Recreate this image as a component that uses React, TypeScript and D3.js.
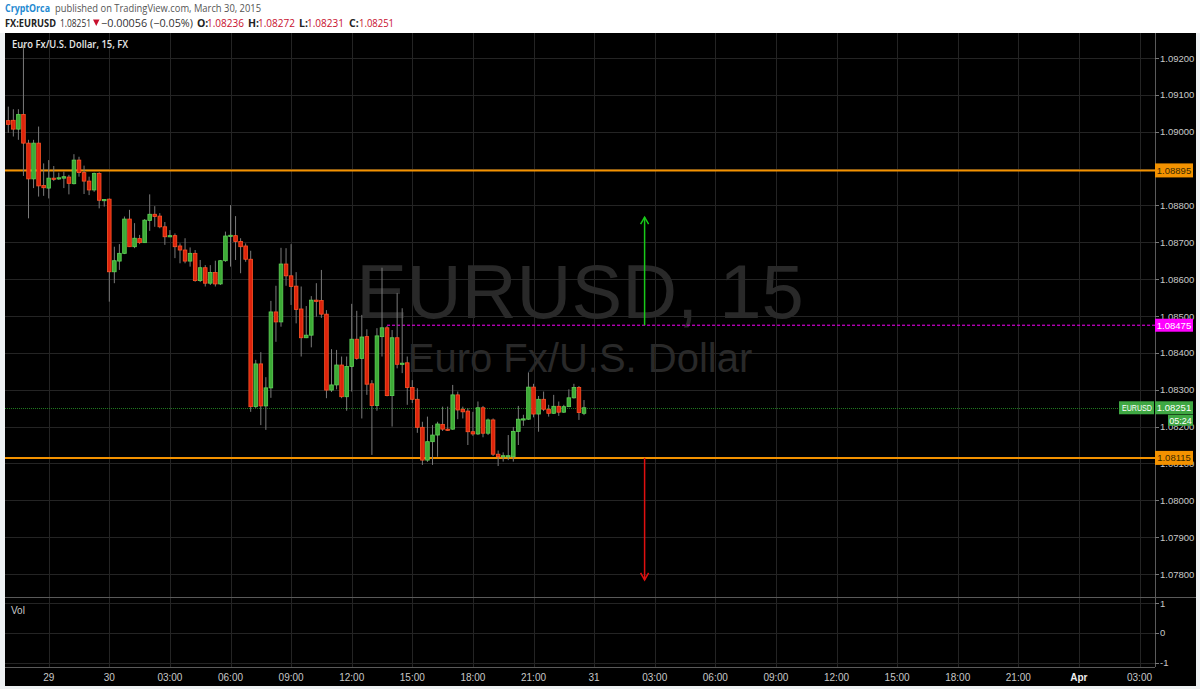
import React from "react";
import * as d3 from "d3";

// ---- data (15-min EURUSD candles) ----
const opens = [
  1.0903, 1.09031, 1.09007, 1.09047, 1.08969, 1.08872, 1.08969, 1.08854, 1.08847, 1.08874,
  1.08874, 1.08874, 1.08877, 1.08859, 1.08923, 1.08889, 1.08866, 1.08842, 1.08887, 1.08814,
  1.08817, 1.0862, 1.08649, 1.0867, 1.08763, 1.08688, 1.0871, 1.08699, 1.08759, 1.08776,
  1.08771, 1.08742, 1.08716, 1.08718, 1.0869, 1.08679, 1.08649, 1.0867, 1.08596, 1.08631,
  1.08589, 1.08618, 1.08587, 1.0865, 1.08717, 1.08718, 1.08702, 1.0869, 1.08654, 1.08254,
  1.0837, 1.08256, 1.08305, 1.08511, 1.08484, 1.08641, 1.08609, 1.08581, 1.08519, 1.08441,
  1.08448, 1.08543, 1.08542, 1.08505, 1.08299, 1.08313, 1.08367, 1.08281, 1.08363, 1.08437,
  1.08385, 1.08444, 1.08316, 1.08257, 1.08444, 1.08468, 1.08284, 1.08441, 1.0837, 1.08373,
  1.08306, 1.08274, 1.08198, 1.08109, 1.08159, 1.08177, 1.08206, 1.08193, 1.08193, 1.08286,
  1.08247, 1.08242, 1.08186, 1.0818, 1.08251, 1.08182, 1.08218, 1.08125, 1.08119, 1.08119,
  1.08118, 1.08187, 1.08219, 1.0822, 1.08307, 1.08234, 1.08274, 1.08247, 1.08236, 1.08255,
  1.08239, 1.08254, 1.08278, 1.08306, 1.08236,
];
const highs = [
  1.09068, 1.09061, 1.09061, 1.09235, 1.08978, 1.08978, 1.09014, 1.08914, 1.08923, 1.08907,
  1.08889, 1.08892, 1.08883, 1.08939, 1.08932, 1.08908, 1.08878, 1.08889, 1.0889, 1.08817,
  1.08819, 1.08688, 1.08695, 1.0877, 1.08788, 1.08752, 1.0872, 1.08763, 1.0883, 1.08798,
  1.08779, 1.08755, 1.08733, 1.08724, 1.08697, 1.08711, 1.08686, 1.08679, 1.08652, 1.08638,
  1.08638, 1.0865, 1.08652, 1.08729, 1.08801, 1.08771, 1.08711, 1.08697, 1.08677, 1.08381,
  1.08402, 1.08334, 1.08541, 1.08582, 1.08685, 1.08684, 1.08695, 1.08619, 1.0858, 1.08527,
  1.08554, 1.08589, 1.08625, 1.08516, 1.0841, 1.08408, 1.0839, 1.0839, 1.08533, 1.08514,
  1.08503, 1.08464, 1.08326, 1.08467, 1.08631, 1.08473, 1.08462, 1.08562, 1.08521, 1.0839,
  1.08326, 1.08304, 1.08213, 1.08227, 1.08204, 1.08213, 1.08254, 1.08254, 1.08313, 1.08295,
  1.08254, 1.0825, 1.0824, 1.08268, 1.08256, 1.08222, 1.08222, 1.08135, 1.0813, 1.08177,
  1.08199, 1.08256, 1.08232, 1.08347, 1.08316, 1.08283, 1.08295, 1.08259, 1.08286, 1.08268,
  1.08259, 1.08301, 1.08316, 1.0831, 1.08272,
];
const lows = [
  1.08997, 1.08987, 1.08978, 1.0888, 1.08765, 1.08847, 1.08824, 1.08826, 1.08819, 1.08866,
  1.08869, 1.08847, 1.0883, 1.08857, 1.08878, 1.08831, 1.08828, 1.08837, 1.08792, 1.08797,
  1.08539, 1.08589, 1.08625, 1.08668, 1.08687, 1.08684, 1.08695, 1.08698, 1.08731, 1.08742,
  1.08738, 1.08693, 1.08714, 1.08657, 1.08643, 1.08643, 1.08634, 1.08593, 1.08592, 1.0858,
  1.08584, 1.0858, 1.08584, 1.08647, 1.08634, 1.08652, 1.08616, 1.08647, 1.0824, 1.0825,
  1.08204, 1.08191, 1.08278, 1.0843, 1.08471, 1.08582, 1.0853, 1.0848, 1.0839, 1.0844,
  1.08415, 1.08498, 1.08495, 1.08277, 1.08294, 1.08301, 1.08277, 1.08243, 1.08295, 1.08381,
  1.08222, 1.08286, 1.08123, 1.08243, 1.0839, 1.08282, 1.082, 1.08358, 1.08345, 1.08259,
  1.08264, 1.08183, 1.08096, 1.08104, 1.08096, 1.08118, 1.08188, 1.08188, 1.08191, 1.0822,
  1.08222, 1.0815, 1.08175, 1.08177, 1.08171, 1.08177, 1.0812, 1.08093, 1.08105, 1.08109,
  1.08105, 1.0815, 1.08202, 1.08218, 1.08225, 1.08186, 1.08242, 1.08227, 1.08234, 1.08229,
  1.08237, 1.08253, 1.08276, 1.08218, 1.08231,
];
const closes = [
  1.0902, 1.09007, 1.09047, 1.08969, 1.08872, 1.08969, 1.08853, 1.08848, 1.08874, 1.08873,
  1.08875, 1.08878, 1.0886, 1.08923, 1.08889, 1.08866, 1.08842, 1.08887, 1.08814, 1.08816,
  1.0862, 1.0865, 1.0867, 1.08763, 1.08688, 1.08711, 1.08699, 1.0876, 1.08776, 1.0877,
  1.08742, 1.08715, 1.08718, 1.08688, 1.08679, 1.08649, 1.0867, 1.08596, 1.08631, 1.08589,
  1.08618, 1.08587, 1.0865, 1.08717, 1.08719, 1.08702, 1.08688, 1.08654, 1.08254, 1.0837,
  1.08256, 1.08305, 1.08511, 1.08484, 1.08641, 1.08609, 1.0858, 1.08518, 1.08441, 1.08448,
  1.08543, 1.08542, 1.08505, 1.08299, 1.08313, 1.08367, 1.08281, 1.08363, 1.08437, 1.08385,
  1.08443, 1.08315, 1.08257, 1.08446, 1.08468, 1.08284, 1.08441, 1.08369, 1.08372, 1.08306,
  1.08274, 1.08198, 1.08109, 1.08159, 1.08177, 1.08207, 1.08193, 1.08192, 1.08286, 1.08245,
  1.0824, 1.08186, 1.0818, 1.08251, 1.08182, 1.08218, 1.08125, 1.08118, 1.08121, 1.08121,
  1.08187, 1.0822, 1.08221, 1.08307, 1.08234, 1.08274, 1.08247, 1.08236, 1.08255, 1.08239,
  1.08254, 1.08278, 1.08306, 1.08238, 1.08251,
];

const timeTickLabels = [
  "29", "30", "03:00", "06:00", "09:00", "12:00", "15:00", "18:00", "21:00", "31",
  "03:00", "06:00", "09:00", "12:00", "15:00", "18:00", "21:00", "Apr", "03:00",
];
const priceTicks = [
  1.078, 1.079, 1.08, 1.081, 1.082, 1.083, 1.084, 1.085, 1.086, 1.087, 1.088, 1.089, 1.09,
  1.091, 1.092,
];
const volTicks = [1, 0, -1];
const supportResistance = [1.08895, 1.08115];
const pivotLevel = 1.08475;
const lastPrice = 1.08251;
const targetUp = 1.08768;
const targetDown = 1.07784;

// header quote
const quote = { open: "1.08236", high: "1.08272", low: "1.08231", close: "1.08251", last: "1.08251", change: "\u22120.00056 (\u22120.05%)" };

// ---- layout ----
const W = 1200;
const H = 689;
const chartLeft = 5;
const chartRight = 1196;
const chartTop = 33;
const paneRight = 1155;
const mainBottom = 597;
const volBottom = 667;
const chartBottom = 686;

const barStart = 8.3;
const barStep = 5.05;
const firstTickIndex = 8;
const tickEvery = 12;
const pivotStartIndex = 75;
const arrowIndex = 126;

const GREEN_FILL = "#3daa36";
const GREEN_STROKE = "#5fd257";
const RED_FILL = "#dd230c";
const RED_STROKE = "#ff5426";
const ORANGE = "#f39200";
const MAGENTA = "#ff00ff";
const GRID = "#242424";
const AXIS_TEXT = "#c8c8c8";
const SANS = "'Liberation Sans', Arial, sans-serif";
const HEAD = "'Open Sans', 'Noto Sans', sans-serif";

export default function App() {
  const x = d3.scaleLinear().domain([0, 1]).range([barStart, barStart + barStep]);
  const y = d3.scaleLinear().domain([1.078, 1.092]).range([574, 58]);
  const yv = d3.scaleLinear().domain([-1, 1]).range([662.5, 603]);
  const fmt = d3.format(".5f");

  const candles = opens.map((o, i) => ({ i, o, h: highs[i], l: lows[i], c: closes[i] }));
  const tickXs = timeTickLabels.map((lab, k) => ({ lab, x: x(firstTickIndex + k * tickEvery) }));
  const bodyW = 3.6;
  const ax = x(arrowIndex);

  // the axis hides a tick label that sits under a level box
  const boxLevels = [...supportResistance, pivotLevel, lastPrice];
  const visiblePriceTicks = priceTicks.filter(
    (p) => !boxLevels.some((b) => Math.abs(y(p) - y(b)) < 4)
  );

  return (
    <svg
      width={W}
      height={H}
      viewBox={`0 0 ${W} ${H}`}
      style={{ position: "absolute", left: 0, top: 0, display: "block" }}
    >
      <rect x={0} y={0} width={W} height={H} fill="#eef1f3" />
      <rect x={0} y={0} width={W} height={chartTop} fill="#ffffff" />

      {/* header */}
      <text x={5} y={12} fontFamily={HEAD} fontSize={11} fontWeight={700} fill="#1f8ad1" textLength={45} lengthAdjust="spacingAndGlyphs">
        CryptOrca
      </text>
      <text x={55} y={12} fontFamily={HEAD} fontSize={11} fill="#555" textLength={206} lengthAdjust="spacingAndGlyphs">
        published on TradingView.com, March 30, 2015
      </text>
      <g fontFamily={HEAD} fontSize={10.5}>
        <text x={5} y={27} fontWeight={700} fill="#222" textLength={51} lengthAdjust="spacingAndGlyphs">FX:EURUSD</text>
        <text x={60} y={27} fill="#333" textLength={31} lengthAdjust="spacingAndGlyphs">{quote.last}</text>
        <path d="M93,19.5 L99.5,19.5 L96.25,26 Z" fill="#c8102e" />
        <text x={101} y={27} fill="#333" textLength={92} lengthAdjust="spacingAndGlyphs">{quote.change}</text>
        <text x={197} y={27} fontWeight={700} fill="#222">O:</text>
        <text x={207} y={27} fill="#c8102e" textLength={37} lengthAdjust="spacingAndGlyphs">{quote.open}</text>
        <text x={248} y={27} fontWeight={700} fill="#222">H:</text>
        <text x={258} y={27} fill="#c8102e" textLength={37} lengthAdjust="spacingAndGlyphs">{quote.high}</text>
        <text x={299} y={27} fontWeight={700} fill="#222">L:</text>
        <text x={307} y={27} fill="#c8102e" textLength={37} lengthAdjust="spacingAndGlyphs">{quote.low}</text>
        <text x={349} y={27} fontWeight={700} fill="#222">C:</text>
        <text x={359} y={27} fill="#c8102e" textLength={35} lengthAdjust="spacingAndGlyphs">{quote.close}</text>
      </g>

      {/* chart background */}
      <rect x={chartLeft} y={chartTop} width={chartRight - chartLeft} height={chartBottom - chartTop} fill="#000" />

      {/* grid */}
      <g stroke={GRID} strokeWidth={1}>
        {priceTicks.map((p) => (
          <line key={"hg" + p} x1={chartLeft} x2={paneRight} y1={Math.round(y(p)) + 0.5} y2={Math.round(y(p)) + 0.5} />
        ))}
        {volTicks.map((v) => (
          <line key={"vg" + v} x1={chartLeft} x2={paneRight} y1={Math.round(yv(v)) + 0.5} y2={Math.round(yv(v)) + 0.5} />
        ))}
        {tickXs.map((t, k) => (
          <line key={"xg" + k} x1={Math.round(t.x) + 0.5} x2={Math.round(t.x) + 0.5} y1={chartTop} y2={volBottom} />
        ))}
      </g>

      {/* watermark */}
      <text x={(chartLeft + paneRight) / 2} y={318} textAnchor="middle" fontFamily={SANS} fontSize={76} fill="#292929">
        EURUSD, 15
      </text>
      <text x={(chartLeft + paneRight) / 2} y={372} textAnchor="middle" fontFamily={SANS} fontSize={40} fill="#292929">
        Euro Fx/U.S. Dollar
      </text>

      {/* pane separators and axis border */}
      <line x1={chartLeft} x2={chartRight} y1={mainBottom + 0.5} y2={mainBottom + 0.5} stroke="#5a5a5a" />
      <line x1={chartLeft} x2={paneRight} y1={volBottom + 0.5} y2={volBottom + 0.5} stroke="#5a5a5a" />
      <line x1={paneRight + 0.5} x2={paneRight + 0.5} y1={chartTop} y2={volBottom} stroke="#5a5a5a" />

      {/* horizontal levels */}
      {supportResistance.map((p) => (
        <line key={"sr" + p} x1={chartLeft} x2={paneRight} y1={y(p)} y2={y(p)} stroke={ORANGE} strokeWidth={2} />
      ))}
      <line x1={x(pivotStartIndex)} x2={paneRight} y1={y(pivotLevel)} y2={y(pivotLevel)} stroke={MAGENTA} strokeWidth={1} strokeDasharray="3,2" />
      <line x1={chartLeft} x2={1119} y1={Math.round(y(lastPrice)) + 0.5} y2={Math.round(y(lastPrice)) + 0.5} stroke="#1f7a1f" strokeWidth={1} strokeDasharray="1,1" />

      {/* candles */}
      <g>
        {candles.map((d) => {
          const up = d.c >= d.o;
          const cx = x(d.i);
          const top = y(Math.max(d.o, d.c));
          const bot = y(Math.min(d.o, d.c));
          const hgt = Math.max(1.2, bot - top);
          return (
            <g key={d.i}>
              <line x1={cx} x2={cx} y1={y(d.h)} y2={y(d.l)} stroke="#7a7a7a" strokeWidth={1} />
              <rect
                x={cx - bodyW / 2}
                y={top}
                width={bodyW}
                height={hgt}
                fill={up ? GREEN_FILL : RED_FILL}
                stroke={up ? GREEN_STROKE : RED_STROKE}
                strokeWidth={0.8}
              />
            </g>
          );
        })}
      </g>

      {/* arrows */}
      <g fill="none" strokeWidth={1.5}>
        <line x1={ax} x2={ax} y1={y(pivotLevel)} y2={y(targetUp)} stroke="#19c919" />
        <path d={`M${ax - 4},${y(targetUp) + 7} L${ax},${y(targetUp)} L${ax + 4},${y(targetUp) + 7}`} stroke="#19c919" />
        <line x1={ax} x2={ax} y1={y(supportResistance[1])} y2={y(targetDown)} stroke="#e01010" />
        <path d={`M${ax - 4},${y(targetDown) - 7} L${ax},${y(targetDown)} L${ax + 4},${y(targetDown) - 7}`} stroke="#e01010" />
      </g>

      {/* pane labels */}
      <text x={12} y={48} fontFamily={HEAD} fontSize={10.5} fontWeight={600} fill="#e6e6e6" textLength={116} lengthAdjust="spacingAndGlyphs">
        Euro Fx/U.S. Dollar, 15, FX
      </text>
      <text x={11} y={614} fontFamily={SANS} fontSize={10} fill="#c8c8c8">Vol</text>

      {/* price axis */}
      <g fontFamily={SANS} fontSize={9.5} fill={AXIS_TEXT}>
        {priceTicks.map((p) => (
          <line key={"ptk" + p} x1={paneRight} x2={paneRight + 4} y1={Math.round(y(p)) + 0.5} y2={Math.round(y(p)) + 0.5} stroke="#777" />
        ))}
        {visiblePriceTicks.map((p) => (
          <text key={"pt" + p} x={1160} y={y(p) + 3.5}>{fmt(p)}</text>
        ))}
        {volTicks.map((v) => (
          <g key={"vt" + v}>
            <line x1={paneRight} x2={paneRight + 4} y1={Math.round(yv(v)) + 0.5} y2={Math.round(yv(v)) + 0.5} stroke="#777" />
            <text x={1160} y={yv(v) + 3.5}>{v}</text>
          </g>
        ))}
      </g>

      {/* level boxes */}
      <g fontFamily={SANS} fontSize={9.5}>
        {supportResistance.map((p) => (
          <g key={"box" + p}>
            <rect x={paneRight} y={y(p) - 7} width={38} height={14} fill={ORANGE} />
            <text x={paneRight + 19} y={y(p) + 3.5} textAnchor="middle" fill="#3a2a00">{fmt(p)}</text>
          </g>
        ))}
        <rect x={paneRight} y={y(pivotLevel) - 6.5} width={38} height={13} fill={MAGENTA} />
        <text x={paneRight + 19} y={y(pivotLevel) + 3.5} textAnchor="middle" fill="#fff">{fmt(pivotLevel)}</text>

        <rect x={1119} y={y(lastPrice) - 6.5} width={35} height={13} fill="#3fa843" />
        <text x={1122} y={y(lastPrice) + 3.5} fill="#fff" fontSize={9} textLength={30} lengthAdjust="spacingAndGlyphs">EURUSD</text>
        <rect x={paneRight} y={y(lastPrice) - 6.5} width={38} height={13} fill="#3fa843" />
        <text x={paneRight + 19} y={y(lastPrice) + 3.5} textAnchor="middle" fill="#fff">{fmt(lastPrice)}</text>
        <rect x={1168} y={y(lastPrice) + 7} width={25} height={11} fill="#3fa843" />
        <text x={1180.5} y={y(lastPrice) + 16} textAnchor="middle" fill="#fff" fontSize={9}>05:24</text>
      </g>

      {/* time axis */}
      <g fontFamily={SANS} fontSize={10} fill={AXIS_TEXT}>
        {tickXs.map((t, k) => (
          <text key={"tl" + k} x={t.x} y={681} textAnchor="middle" fontWeight={t.lab === "Apr" ? 700 : 400} fill={t.lab === "Apr" ? "#eee" : AXIS_TEXT}>
            {t.lab}
          </text>
        ))}
      </g>
    </svg>
  );
}
